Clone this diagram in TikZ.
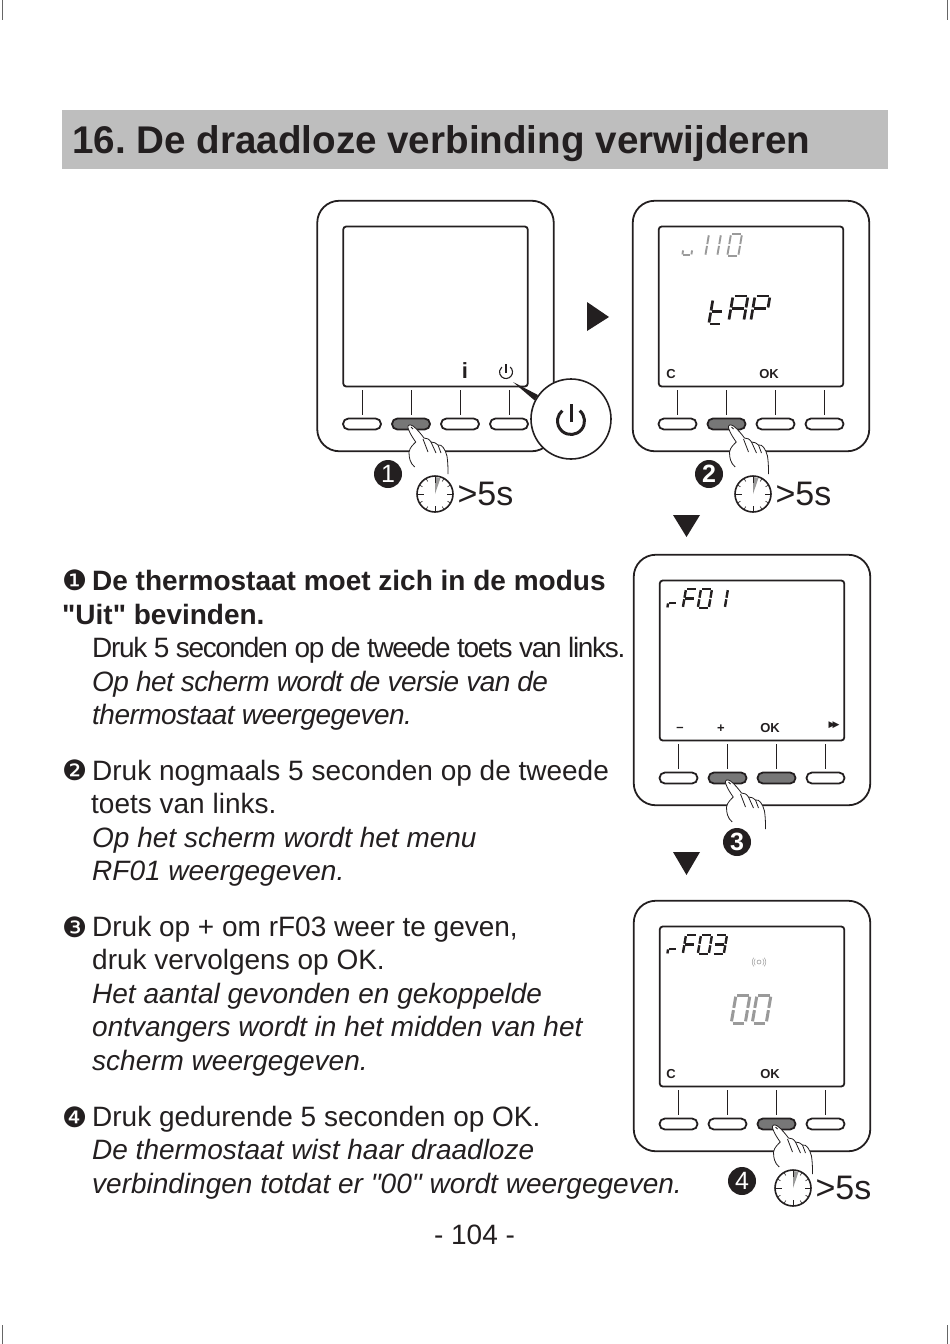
\documentclass[tikz,border=0pt]{standalone}
\usepackage{fontspec}
\setmainfont{Liberation Sans}[Ligatures=TeXOff]
\newfontfamily\dingfont{DejaVu Sans}
\usetikzlibrary{positioning,calc}
\definecolor{bandgray}{HTML}{BEBEBE}
\definecolor{inkblack}{HTML}{231F20}
\definecolor{keygray}{HTML}{777777}
\definecolor{lcdgray}{HTML}{9A9A9A}
\tikzset{
  panel/.style={draw=inkblack,line width=1.8pt,rounded corners=22pt,minimum width=236.5pt,minimum height=250.5pt,inner sep=0pt},
  lcdscreen/.style={draw=inkblack,line width=1.8pt,rounded corners=3pt,minimum width=184.5pt,minimum height=160pt,inner sep=0pt},
  keybtn/.style={draw=inkblack,line width=1.8pt,rounded corners=5.4pt,minimum width=38pt,minimum height=11pt,inner sep=0pt},
  stem/.style={draw=inkblack,line width=0.9pt,shorten >=2.5pt,shorten <=3pt},
  badge/.style={circle,fill=inkblack,text=white,minimum size=28pt,inner sep=0pt,font=\fontsize{25}{25}\selectfont},
  keylabel/.style={inner sep=0pt,text=inkblack,font=\fontsize{13}{13}\selectfont\bfseries},
  watch/.style={circle,draw=inkblack,line width=1.6pt,minimum size=36pt,inner sep=0pt},
  fivesec/.style={inner sep=0pt,text=inkblack,font=\fontsize{34}{34}\selectfont},
  stepmark/.style={fill=inkblack},
  para/.style={anchor=north west,align=left,inner sep=0pt,text=inkblack,font=\fontsize{28}{33.7}\selectfont\frenchspacing},
  lcdbold/.style={color=inkblack,line width=2.7pt},
  lcdmid/.style={color=inkblack,line width=2.4pt},
  lcdfaint/.style={color=lcdgray,line width=1.9pt},
  lcdfaintbig/.style={color=lcdgray,line width=3pt}
}
\newcommand{\stepno}[1]{\makebox[30pt][l]{\raisebox{-0.5pt}{\dingfont\mdseries\fontsize{28}{28}\selectfont #1}}}
% panel, its screen, four keys and the stems between them
\newcommand{\keypad}[5]{
  \node[lcdscreen] (#1-s) at ($(#1.center)+(0,-19.5)$) {};
  \foreach \k/\dx/\tone in {1/-73.5/#2,2/-24.5/#3,3/24.5/#4,4/73.5/#5}{
    \node[keybtn,fill=\tone] (#1-\k) at ($(#1.center)+(\dx,98)$) {};
    \draw[stem] (#1-\k.north) -- (#1-\k.north |- #1-s.south);
  }
}
% hand on a key, tip at the origin of the scope
\newcommand{\hand}[2]{
  \begin{scope}[shift={(#1)},shift={(#2)},line width=0.8pt,draw=inkblack]
    \path[fill=white,draw] (6.7,42) .. controls (2,38) and (1,33) .. (1,27) .. controls (2,22) and (5,20) .. (7.7,17)
      .. controls (5,13) and (2,9) .. (0,3) .. controls (-1,0) and (2,-1) .. (5,1) .. controls (9,4) and (13,9) .. (16,13)
      .. controls (19,13) and (21,14) .. (23,17) .. controls (26,17) and (28,18) .. (30,20) .. controls (34,19) and (37,24) .. (39,31)
      .. controls (40,38) and (40,44) .. (40,49);
    \draw (15,14) -- (20,27) (23,17) -- (28,28) (30,20) -- (33,28) (3,2) -- (5,4);
  \end{scope}
}
% stopwatch with tick marks
\newcommand{\stopwatch}[2]{
  \node[watch,fill=white] (#1) at (#2) {};
  \fill[lcdgray] (#1.center) -- ++(0,-17) -- ++(5.5,1) -- cycle;
  \foreach \a in {0,30,...,330}{
    \draw[inkblack,line width=0.6pt] ($(#1.center)+(\a:18)$) -- ($(#1.center)+(\a:14.5)$);
  }
  \foreach \a in {0,90,180,270}{
    \draw[inkblack,line width=0.9pt] ($(#1.center)+(\a:18)$) -- ($(#1.center)+(\a:11.5)$);
  }
}
% seven segments, unit box
\newcommand{\lcdsega}{\draw (0.1,0) -- (0.9,0);}
\newcommand{\lcdsegb}{\draw (1,0.06) -- (1,0.46);}
\newcommand{\lcdsegc}{\draw (1,0.54) -- (1,0.94);}
\newcommand{\lcdsegd}{\draw (0.1,1) -- (0.9,1);}
\newcommand{\lcdsege}{\draw (0,0.54) -- (0,0.94);}
\newcommand{\lcdsegf}{\draw (0,0.06) -- (0,0.46);}
\newcommand{\lcdsegg}{\draw (0.1,0.5) -- (0.9,0.5);}
% seven segment character: style, top left, width, height, segments
\newcommand{\lcdchar}[5][lcdmid]{
  \begin{scope}[shift={(#2)},xslant=0.17,x=#3pt,y=-#4pt,#1]
    \foreach \s in {#5}{\csname lcdseg\s\endcsname}
  \end{scope}
}
\begin{document}
\begin{tikzpicture}[x=1pt,y=-1pt]
\useasboundingbox (0,0) rectangle (950,1344);
% crop marks
\foreach \cx/\ya/\yb in {2.5/0/20,947.5/0/20,2.5/1325/1344,947.5/1325/1344}{
  \draw[line width=1pt,black!60] (\cx,\ya) -- (\cx,\yb);
}
% title
\fill[bandgray] (62,110) rectangle (888,169);
\node (title) [anchor=base west,inner sep=0pt,text=inkblack,font=\fontsize{38.6}{38.6}\selectfont\bfseries\frenchspacing] at (72,153) {16. De draadloze verbinding verwijderen};

% panels
\node[panel] (pa) at (435.5,326) {};
\node[panel] (pb) at (751,326) {};
\node[panel] (pc) at (752,680) {};
\node[panel] (pd) at (752,1026) {};
\keypad{pa}{white}{keygray}{white}{white}
\keypad{pb}{white}{keygray}{white}{white}
\keypad{pc}{white}{keygray}{keygray}{white}
\keypad{pd}{white}{white}{keygray}{white}

% screen of panel a
\node (info) [inner sep=0pt,text=inkblack,font=\fontsize{22}{22}\selectfont\bfseries] at (465,371) {i};
\coordinate (pwr) at (506,372);
\draw[inkblack,line width=1.1pt] ($(pwr)+(-50:6.5)$) arc (-50:230:6.5);
\draw[inkblack,line width=1.1pt] ($(pwr)+(0,1)$) -- ($(pwr)+(0,-8)$);
\node[circle,draw=inkblack,line width=1.6pt,fill=white,minimum size=80pt,inner sep=0pt] (zoomc) at (571,419) {};
\fill[inkblack] (513,382) -- (zoomc.153) -- (zoomc.144) -- cycle;
\draw[inkblack,line width=3pt] ($(zoomc.center)+(-50:13.5)+(0,2)$) arc (-50:230:13.5);
\draw[inkblack,line width=3pt] ($(zoomc.center)+(0,3)$) -- ($(zoomc.center)+(0,-15)$);

% screen of panel b
\lcdchar[lcdfaint]{684,245}{9}{10}{e,d,c}
\lcdchar[lcdfaint]{708,234}{1}{22}{b,c}
\lcdchar[lcdfaint]{720,234}{1}{22}{b,c}
\lcdchar[lcdfaint]{731,234}{11}{22}{a,b,c,d,e,f}
\lcdchar[lcdbold]{713,299}{12}{25}{f,e,d,g}
\lcdchar[lcdbold]{733,296}{15}{25}{a,b,c,e,f,g}
\lcdchar[lcdbold]{755,296}{15}{25}{a,b,e,f,g}
\node (cb) [keylabel] at (671,374) {C};
\node (okb) [keylabel] at (769,374) {OK};

% screen of panel c
\lcdchar{669,598}{9}{10}{g,e}
\lcdchar{686,589}{11}{19}{a,f,e,g}
\lcdchar{701,589}{11}{19}{a,b,c,d,e,f}
\lcdchar{727,589}{1}{19}{b,c}
\node (minusc) [keylabel] at (680,729) {–};
\node (plusc) [keylabel] at (721,729) {+};
\node (okc) [keylabel] at (770,728) {OK};
\node (ffc) [inner sep=0pt,text=inkblack,font=\dingfont\fontsize{9}{9}\selectfont] at (834,725) {▶\kern-3pt▶};

% screen of panel d
\lcdchar{669,944}{9}{10}{g,e}
\lcdchar{686,935}{11}{19}{a,f,e,g}
\lcdchar{701,935}{11}{19}{a,b,c,d,e,f}
\lcdchar{716,935}{11}{19}{a,b,c,d,g}
\lcdchar[lcdfaintbig]{736,995}{14}{28}{a,b,c,d,e,f}
\lcdchar[lcdfaintbig]{757,995}{14}{28}{a,b,c,d,e,f}
\node[circle,draw=lcdgray,line width=0.6pt,minimum size=4pt,inner sep=0pt] (sig) at (759,962) {};
\foreach \r in {5,6.8}{
  \draw[lcdgray,line width=0.5pt] ($(sig.center)+(-40:\r)$) arc (-40:40:\r);
  \draw[lcdgray,line width=0.5pt] ($(sig.center)+(140:\r)$) arc (140:220:\r);
}
\node (cd) [keylabel] at (671,1074) {C};
\node (okd) [keylabel] at (770,1074) {OK};

% hands
\hand{pa-2}{-3,1}
\hand{pb-2}{2,1}
\hand{pc-2}{-2,2}
\hand{pd-3}{-4,1}

% badges and timers
\node[badge] (n1) at (388,474) {1};
\node[badge] (n2) at (709,474) {\bfseries 2};
\node[badge] (n3) at (737,842) {\bfseries 3};
\node[badge] (n4) at (742,1181) {4};
\stopwatch{wa}{435,494}
\stopwatch{wb}{753,494}
\stopwatch{wd}{793,1188}
\node (ta) [fivesec,right=3.5pt of wa] {>5s};
\node (tb) [fivesec,right=3.5pt of wb] {>5s};
\node (td) [fivesec,right=3.5pt of wd] {>5s};

% step arrows
\fill[stepmark] (587,302) -- (609,317) -- (587,331) -- cycle;
\fill[stepmark] (673,515) -- (700,515) -- (686.5,537) -- cycle;
\fill[stepmark] (673,852) -- (700,852) -- (686.5,875) -- cycle;

% text
\node (s1a) [para] at (62,570) {\bfseries\stepno{❶}De thermostaat moet zich in de modus\\\bfseries"Uit" bevinden.};
\node (s1b) [para] at (92,637) {{\addfontfeature{LetterSpace=-4.7}Druk 5 seconden op de tweede toets van links.}\\{\itshape\addfontfeature{LetterSpace=-2.2}Op het scherm wordt de versie van de}\\{\itshape\addfontfeature{LetterSpace=-1.9}thermostaat weergegeven.}};
\node (s2a) [para] at (62,760) {\stepno{❷}Druk nogmaals 5 seconden op de tweede};
\node (s2b) [para] at (91,793) {toets van links.\\\hspace*{1pt}\itshape Op het scherm wordt het menu\\\hspace*{1pt}\itshape RF01 weergegeven.};
\node (s3a) [para] at (62,916) {\stepno{❸}Druk op + om rF03 weer te geven,};
\node (s3b) [para] at (92,949) {druk vervolgens op OK.\\\itshape Het aantal gevonden en gekoppelde\\\itshape ontvangers wordt in het midden van het\\\itshape scherm weergegeven.};
\node (s4a) [para] at (62,1106) {\stepno{❹}Druk gedurende 5 seconden op OK.};
\node (s4b) [para] at (92,1139) {\itshape De thermostaat wist haar draadloze\\\itshape verbindingen totdat er "00" wordt weergegeven.};
\node (pageno) [inner sep=0pt,text=inkblack,font=\fontsize{28}{28}\selectfont] at (474.5,1235) {- 104 -};
\end{tikzpicture}
\end{document}
